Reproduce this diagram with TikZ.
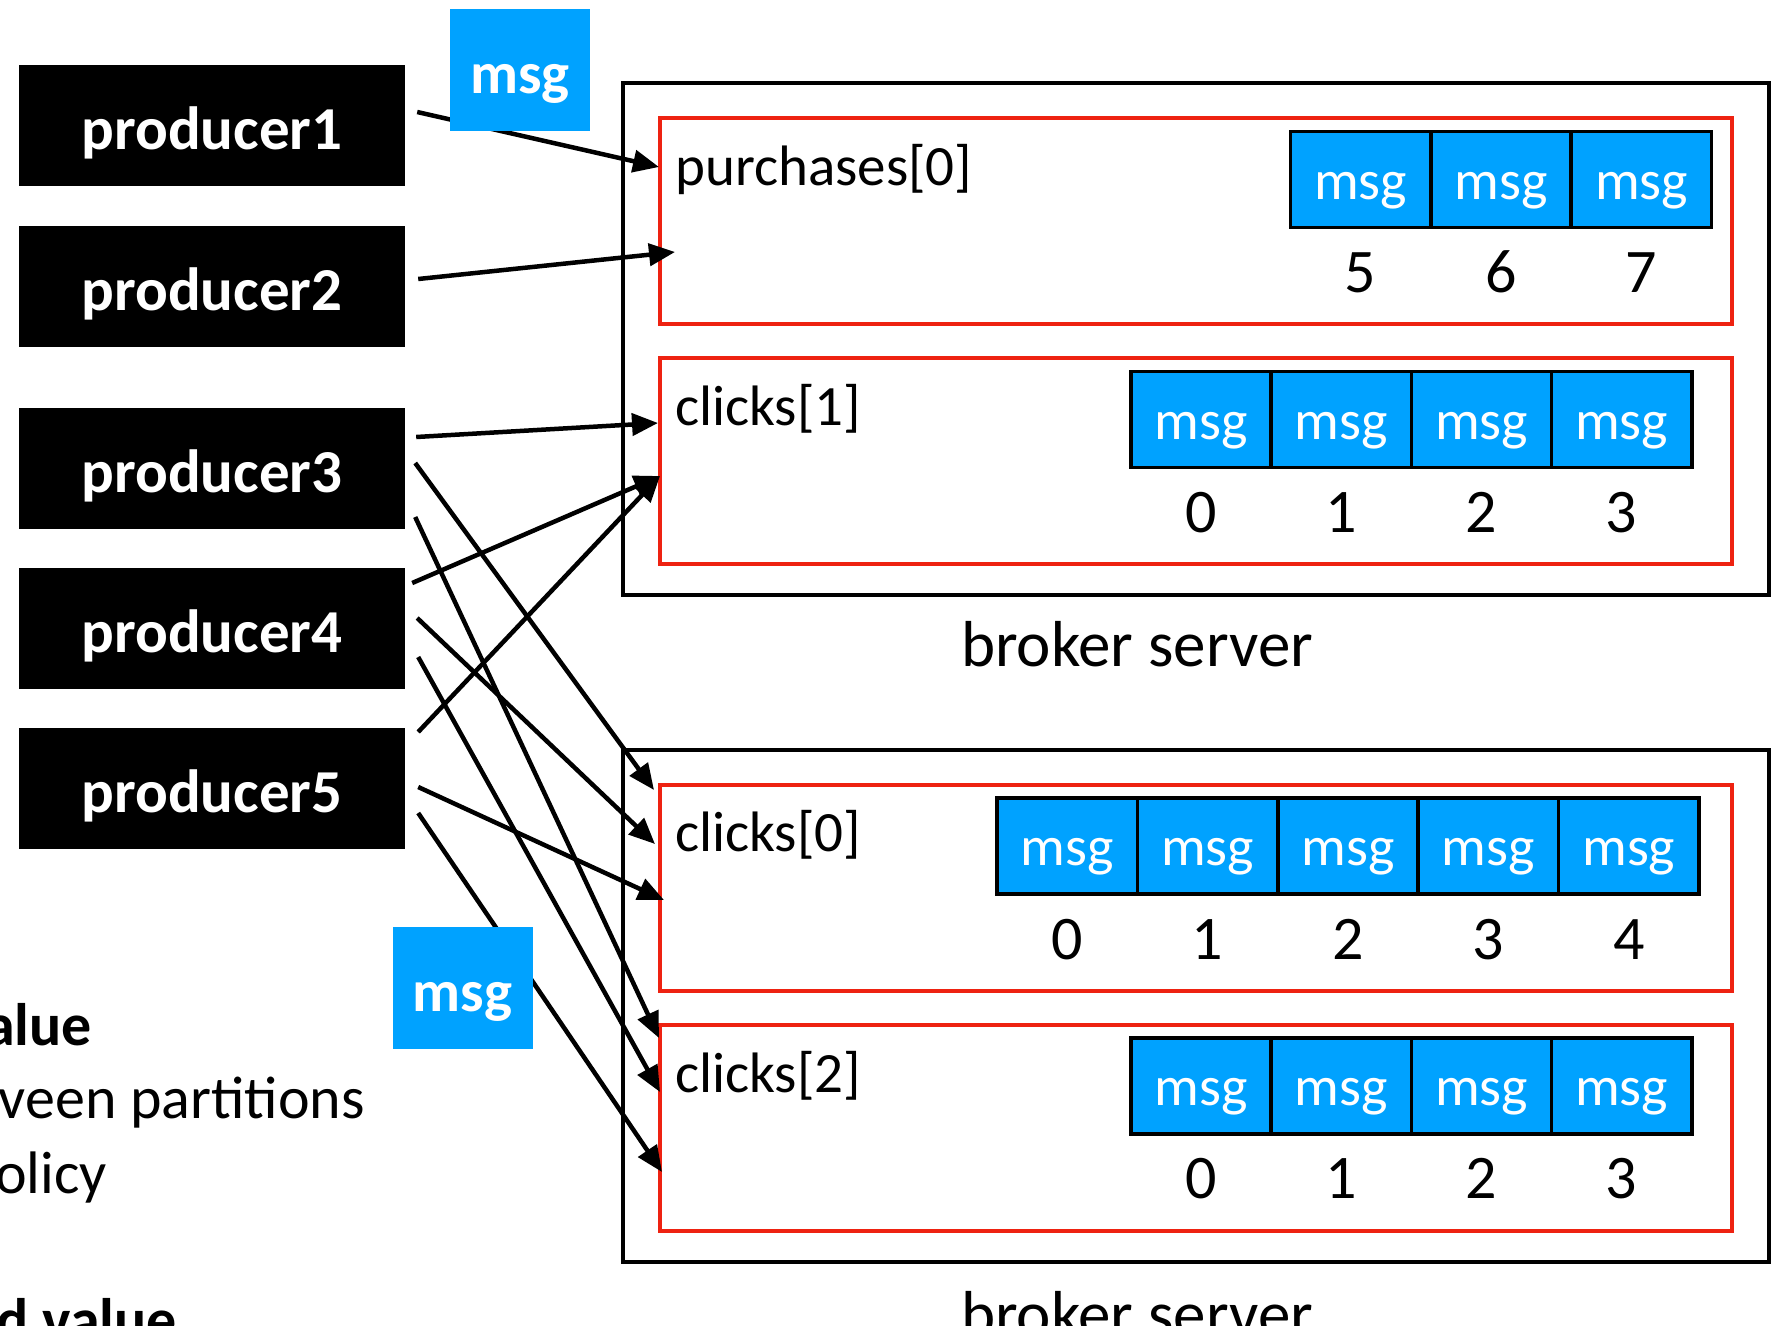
\documentclass[tikz,border=0pt]{standalone}
\usepackage{fontspec}
\setmainfont{Carlito}
\usetikzlibrary{arrows.meta,calc}
\definecolor{msgblue}{RGB}{0,162,255}
\definecolor{partred}{RGB}{238,34,17}
\newcommand\fprod{\bfseries\fontsize{61pt}{61pt}\selectfont}
\newcommand\fmsg{\fontsize{56pt}{56pt}\selectfont}
\newcommand\fmsgb{\bfseries\fontsize{59pt}{59pt}\selectfont}
\newcommand\flab{\fontsize{57pt}{57pt}\selectfont}
\newcommand\fnum{\fontsize{62pt}{62pt}\selectfont}
\newcommand\fcap{\fontsize{65pt}{65pt}\selectfont}
\newcommand\ffrag{\fontsize{60pt}{60pt}\selectfont}
\newcommand\ffragb{\bfseries\fontsize{60pt}{60pt}\selectfont}
\begin{document}
\begin{tikzpicture}[x=1pt,y=-1pt,
 prod/.style={fill=black,text=white,inner sep=0pt,minimum width=386pt,minimum height=121pt,text height=48pt,text depth=0pt,font=\fprod},
 broker/.style={draw=black,line width=4pt,inner sep=0pt,minimum width=1146pt,minimum height=512pt},
 part/.style={draw=partred,line width=4pt,inner sep=0pt,minimum width=1072pt,minimum height=206pt},
 cell/.style={fill=msgblue,draw=black,line width=3.5pt,text=white,inner sep=0pt,minimum width=140.4pt,minimum height=96pt,text height=39pt,text depth=0pt,font=\fmsg},
 flying/.style={fill=msgblue,text=white,inner sep=0pt,minimum width=140pt,minimum height=121.5pt,text height=46pt,text depth=0pt,font=\fmsgb},
 plabel/.style={anchor=base west,inner sep=0pt,font=\flab},
 idx/.style={anchor=base,inner sep=0pt,font=\fnum},
 caption/.style={anchor=base,inner sep=0pt,font=\fcap},
 frag/.style={anchor=base east,inner sep=0pt,font=\ffrag},
 fragb/.style={anchor=base east,inner sep=0pt,font=\ffragb},
 conn/.style={line width=4.5pt,-{Triangle[length=26pt,width=22pt]}}
]
\path[use as bounding box] (0,0) rectangle (1779,1325);
\clip (0,0) rectangle (1779,1325);
\fill[white] (0,0) rectangle (1779,1325);

% producers
\node[prod] (p1) at (212,125) {producer1};
\node[prod] (p2) at (212,286) {producer2};
\node[prod] (p3) at (212,468) {producer3};
\node[prod] (p4) at (212,628) {producer4};
\node[prod] (p5) at (212,788) {producer5};

% brokers
\node[broker] (b1) at (1196,339) {};
\node[broker] (b2) at (1196,1006) {};
\node[caption] (c1) at (1137,666) {broker server};
\node[caption] (c2) at (1137,1336) {broker server};

% partitions
\node[part] (pp0) at (1196,221) {};
\node[part] (pc1) at (1196,461) {};
\node[part] (pc0) at (1196,887.5) {};
\node[part] (pc2) at (1196,1128) {};
\node[plabel] (lp0) at (675,185) {purchases[0]};
\node[plabel] (lc1) at (675,425) {clicks[1]};
\node[plabel] (lc0) at (675,851) {clicks[0]};
\node[plabel] (lc2) at (675,1092) {clicks[2]};

% message cells
\foreach \i/\x/\n in {1/1360.5/5,2/1501/6,3/1641.5/7}{
  \node[cell] (a\i) at (\x,179.5) {msg};
  \node[idx] (na\i) at (\x,292) {\n};
}
\foreach \i/\x/\n in {1/1201/0,2/1341.2/1,3/1481.5/2,4/1621.6/3}{
  \node[cell] (b\i) at (\x,419.5) {msg};
  \node[idx] (nb\i) at (\x,532) {\n};
}
\foreach \i/\x/\n in {1/1067.2/0,2/1207.6/1,3/1348/2,4/1488.4/3,5/1628.8/4}{
  \node[cell] (c\i) at (\x,846) {msg};
  \node[idx] (nc\i) at (\x,959) {\n};
}
\foreach \i/\x/\n in {1/1201/0,2/1341.2/1,3/1481.5/2,4/1621.6/3}{
  \node[cell] (d\i) at (\x,1086) {msg};
  \node[idx] (nd\i) at (\x,1198) {\n};
}

% left text fragments
\node[fragb] (f1) at (92,1045) {alue};
\node[frag] (f2) at (365,1118) {veen partitions};
\node[frag] (f3) at (107,1193) {olicy};
\node[fragb] (f4) at (177,1340) {d value};

% connector ends
\coordinate (s1) at ($(p1.east)+(12,-13)$);
\coordinate (s2) at ($(p2.east)+(13,-7)$);
\coordinate (s3a) at ($(p3.east)+(11,-31)$);
\coordinate (s3b) at ($(p3.east)+(10,-5)$);
\coordinate (s3c) at ($(p3.east)+(10,49)$);
\coordinate (s4a) at ($(p4.east)+(7,-45)$);
\coordinate (s4b) at ($(p4.east)+(12,-10)$);
\coordinate (s4c) at ($(p4.east)+(13,29)$);
\coordinate (s5a) at ($(p5.east)+(13,-56)$);
\coordinate (s5b) at ($(p5.east)+(13,-1)$);
\coordinate (s5c) at ($(p5.east)+(13,25)$);

\coordinate (t1) at ($(pp0.west)+(1,-54)$);
\coordinate (t2) at ($(pp0.west)+(17,31)$);
\coordinate (t3) at ($(pc1.west)+(0,-38)$);
\coordinate (t4) at ($(pc1.west)+(2,15)$);
\coordinate (t6) at ($(pc0.west)+(-4,-97.5)$);
\coordinate (t7) at ($(pc0.west)+(-3,-43.5)$);
\coordinate (t8) at ($(pc0.west)+(6,12.5)$);
\coordinate (t9) at ($(pc2.west)+(1,-90)$);
\coordinate (t10) at ($(pc2.west)+(2,-36)$);
\coordinate (t11) at ($(pc2.west)+(4,44)$);

\draw[conn] (s1) -- (t1);
\draw[conn] (s2) -- (t2);
\draw[conn] (s3a) -- (t3);
\draw[conn] (s4a) -- (t4);
\draw[conn] (s5a) -- (t4);
\draw[conn] (s3b) -- (t6);
\draw[conn] (s4b) -- (t7);
\draw[conn] (s5b) -- (t8);
\draw[conn] (s3c) -- (t9);
\draw[conn] (s4c) -- (t10);
\draw[conn] (s5c) -- (t11);

% flying messages
\node[flying] (m1) at (520,70) {msg};
\node[flying] (m2) at (462.6,988) {msg};
\end{tikzpicture}
\end{document}
